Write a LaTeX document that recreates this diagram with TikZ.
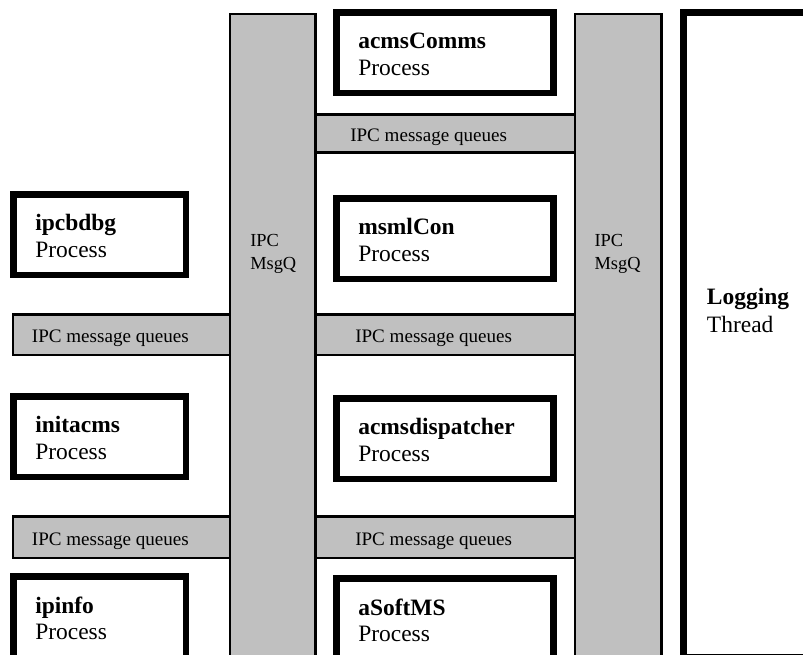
\documentclass[tikz,border=0pt]{standalone}
\usepackage{fontspec}
\setmainfont{Liberation Serif}
\definecolor{barfill}{HTML}{C0C0C0}

\begin{document}
\begin{tikzpicture}[x=0.75pt,y=-0.75pt,
    proc/.style={draw, line width=4.9pt, fill=white, anchor=north west,
      inner sep=0pt, minimum height=60.4pt},
    procl/.style={proc, minimum width=129.4pt},
    procr/.style={proc, minimum width=163.1pt},
    bar/.style={draw, line width=1.9pt, fill=barfill, anchor=north west,
      inner sep=0pt},
    pname/.style={anchor=base west, inner sep=0pt,
      font=\fontsize{17.6}{20}\selectfont\bfseries},
    ptype/.style={anchor=base west, inner sep=0pt,
      font=\fontsize{17.6}{20}\selectfont},
    qtext/.style={anchor=base west, inner sep=0pt,
      font=\fontsize{14.3}{17}\selectfont},
    mtext/.style={anchor=base west, inner sep=0pt,
      font=\fontsize{13.8}{17}\selectfont}]
  \useasboundingbox (0,0) rectangle (803,655);
  \clip (0,0) rectangle (803,655);
  % horizontal message queues
  \node[bar, minimum width=215.6pt, minimum height=28.6pt] (q0) at (300,113.3) {};
  \node[bar, minimum width=169.4pt, minimum height=30.5pt] (q1l) at (11.7,313.3) {};
  \node[bar, minimum width=215.6pt, minimum height=30.5pt] (q1r) at (300,313.3) {};
  \node[bar, minimum width=169.4pt, minimum height=31.4pt] (q2l) at (11.7,515) {};
  \node[bar, minimum width=215.6pt, minimum height=31.4pt] (q2r) at (300,515) {};
  \node[qtext] (q0t) at (350,141.7) {IPC message queues};
  \node[qtext] (q1lt) at (31.7,343) {IPC message queues};
  \node[qtext] (q1rt) at (355,343) {IPC message queues};
  \node[qtext] (q2lt) at (31.7,545) {IPC message queues};
  \node[qtext] (q2rt) at (355,545) {IPC message queues};
  % vertical msgq bars
  \node[bar, minimum width=64.1pt, minimum height=506pt] (m1) at (228.5,12.7) {};
  \node[bar, minimum width=64.9pt, minimum height=506pt] (m2) at (573.5,12.7) {};
  \node[mtext] (m1a) at (250,246.7) {IPC};
  \node[mtext] (m1b) at (250,270) {MsgQ};
  \node[mtext] (m2a) at (594.3,246.7) {IPC};
  \node[mtext] (m2b) at (594.3,270) {MsgQ};
  % processes
  \node[procr] (comms) at (333,9) {};
  \node[procl] (dbg) at (10,191) {};
  \node[procr] (con) at (333,195) {};
  \node[procl] (init) at (10,393) {};
  \node[procr] (disp) at (333,395) {};
  \node[procl, minimum height=70.1pt] (info) at (10,573) {};
  \node[procr, minimum height=70.1pt] (soft) at (333,575) {};
  \node[pname] (commsn) at ([shift={(25,40)}]comms.north west) {acmsComms};
  \node[ptype] (commst) at ([shift={(25,66.7)}]comms.north west) {Process};
  \node[pname] (dbgn) at ([shift={(25,40)}]dbg.north west) {ipcbdbg};
  \node[ptype] (dbgt) at ([shift={(25,66.7)}]dbg.north west) {Process};
  \node[pname] (conn) at ([shift={(25,40)}]con.north west) {msmlCon};
  \node[ptype] (cont) at ([shift={(25,66.7)}]con.north west) {Process};
  \node[pname] (initn) at ([shift={(25,40)}]init.north west) {initacms};
  \node[ptype] (initt) at ([shift={(25,66.7)}]init.north west) {Process};
  \node[pname] (dispn) at ([shift={(25,40)}]disp.north west) {acmsdispatcher};
  \node[ptype] (dispt) at ([shift={(25,66.7)}]disp.north west) {Process};
  \node[pname] (infon) at ([shift={(25,40)}]info.north west) {ipinfo};
  \node[ptype] (infot) at ([shift={(25,66.7)}]info.north west) {Process};
  \node[pname] (softn) at ([shift={(25,40)}]soft.north west) {aSoftMS};
  \node[ptype] (softt) at ([shift={(25,66.7)}]soft.north west) {Process};
  % logging thread
  \node[proc, minimum width=107.6pt, minimum height=483.4pt] (log) at (680,9) {};
  \node[pname] (logn) at ([shift={(26.7,296)}]log.north west) {Logging};
  \node[ptype] (logt) at ([shift={(26.7,324)}]log.north west) {Thread};
\end{tikzpicture}
\end{document}
